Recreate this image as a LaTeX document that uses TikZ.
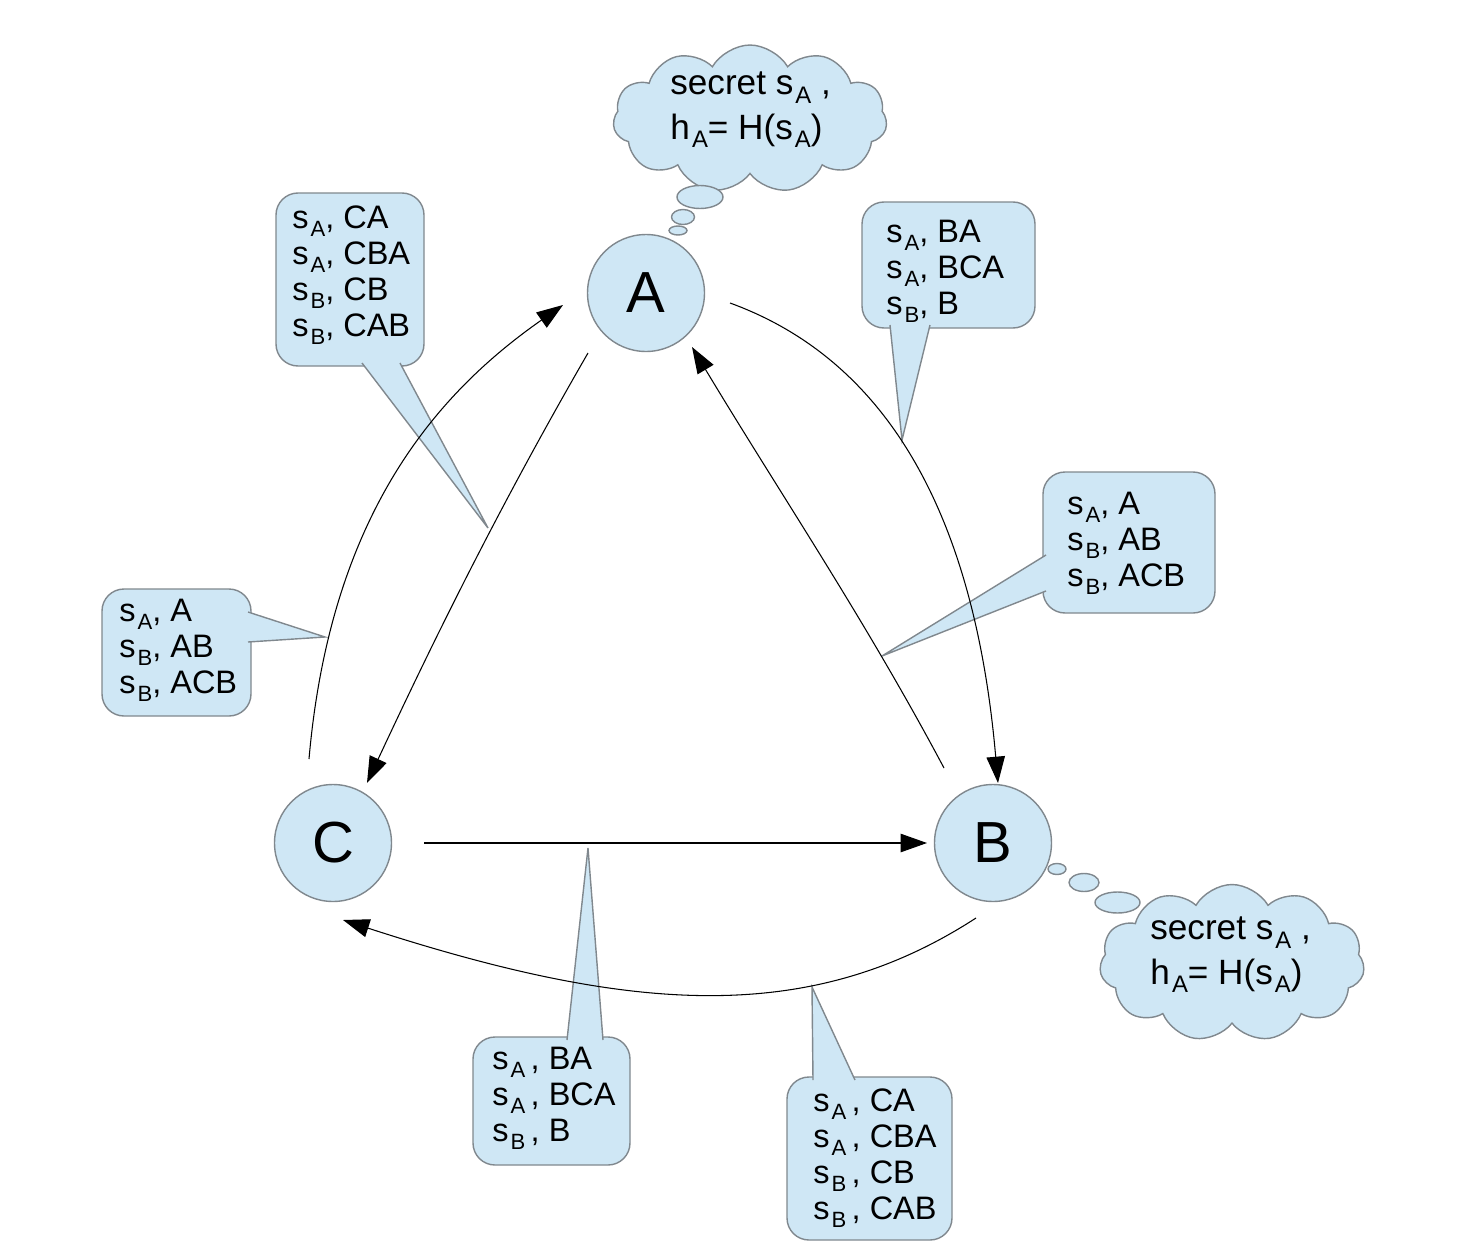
\documentclass[tikz,border=0pt]{standalone}
\usepackage{fontspec}
\usepackage{graphicx}
\setmainfont{Liberation Sans}
\usetikzlibrary{arrows.meta,shapes.symbols}

\definecolor{bubble}{RGB}{207,231,245}
\definecolor{rim}{RGB}{128,136,142}

% lowered, smaller index letter (s_A, h_A)
\newcommand\sbx[1]{\kern0.06em\raisebox{-0.24em}{\scalebox{0.68}{#1}}}

\begin{document}
\begin{tikzpicture}[x=0.02cm,y=0.02cm,
  state/.style={circle, draw=rim, fill=bubble, line width=0.8pt,
    minimum size=2.34cm, inner sep=0pt, font=\fontsize{33}{36}\selectfont},
  flow/.style={line width=0.6pt, -{Triangle[length=15pt,width=10.5pt]}},
  box/.style={draw=rim, fill=bubble, line width=0.8pt, rounded corners=0.44cm},
  tail/.style={draw=rim, fill=bubble, line width=0.8pt, line join=miter},
  boxtext/.style={anchor=west, align=left, inner sep=0pt,
    font=\fontsize{18.5}{20.5}\selectfont},
  cloudtext/.style={anchor=west, align=left, inner sep=0pt,
    font=\fontsize{20}{25.5}\selectfont},
  thought/.style={cloud, cloud puffs=11, cloud puff arc=120, draw=rim,
    fill=bubble, line width=0.8pt, inner sep=0pt},
  trail/.style={draw=rim, fill=bubble, line width=0.8pt}]

\useasboundingbox (0,0) rectangle (1465,-1251);

% thought clouds with their trails of bubbles
\node[thought, aspect=1.85, minimum width=5.48cm, minimum height=2.96cm] (cloudA) at (750,-119) {};
\node[cloudtext] (secretA) at (670,-110) {secret s\sbx{A} ,\\h\sbx{A}= H(s\sbx{A})};
\path[trail] (700,-197) ellipse [x radius=23, y radius=11.5];
\path[trail] (683,-217) ellipse [x radius=11.5, y radius=7.5];
\path[trail] (678,-230.5) ellipse [x radius=9, y radius=4.5];

\node[thought, aspect=1.7, minimum width=5.3cm, minimum height=3.14cm] (cloudB) at (1232,-963) {};
\node[cloudtext] (secretB) at (1150,-955) {secret s\sbx{A} ,\\h\sbx{A}= H(s\sbx{A})};
\path[trail] (1057,-869) ellipse [x radius=9, y radius=5.5];
\path[trail] (1084,-882.5) ellipse [x radius=15, y radius=9];
\path[trail] (1117.5,-902.5) ellipse [x radius=22.5, y radius=10.5];

% callout boxes: rounded body, then the pointer on top of its rim
\draw[box] (276,-193) rectangle (424,-366);
\draw[tail] (362,-363) -- (488,-528) -- (400,-363);
\node[boxtext] (la) at (292,-275) {s\sbx{A}, CA\\s\sbx{A}, CBA\\s\sbx{B}, CB\\s\sbx{B}, CAB};

\draw[box] (862,-202) rectangle (1035,-328);
\draw[tail] (890,-325) -- (902,-440) -- (930,-325);
\node[boxtext] (lb) at (886,-271) {s\sbx{A}, BA\\s\sbx{A}, BCA\\s\sbx{B}, B};

\draw[box] (1043,-472) rectangle (1215,-613);
\draw[tail] (1046,-555) -- (882,-656) -- (1046,-591);
\node[boxtext] (lc) at (1067,-543) {s\sbx{A}, A\\s\sbx{B}, AB\\s\sbx{B}, ACB};

\draw[box] (102,-589) rectangle (251,-716);
\draw[tail] (248,-612) -- (325,-637) -- (248,-642);
\node[boxtext] (ld) at (119,-650) {s\sbx{A}, A\\s\sbx{B}, AB\\s\sbx{B}, ACB};

\draw[box] (473,-1037) rectangle (630,-1165);
\draw[tail] (567,-1040) -- (588,-848) -- (603,-1040);
\node[boxtext] (le) at (492,-1098) {s\sbx{A}\,, BA\\s\sbx{A}\,, BCA\\s\sbx{B}\,, B};

\draw[box] (787,-1077) rectangle (952,-1240);
\draw[tail] (813,-1080) -- (812,-987) -- (855,-1080);
\node[boxtext] (lf) at (813,-1158) {s\sbx{A}\,, CA\\s\sbx{A}\,, CBA\\s\sbx{B}\,, CB\\s\sbx{B}\,, CAB};

% the three parties
\node[state] (A) at (646,-293) {A};
\node[state] (B) at (993,-843) {B};
\node[state] (C) at (333,-843) {C};

% messages between the parties
\draw[flow] ([shift={(-24,84)}]C.center) .. controls +(85:250) and +(215:150) .. ([shift={(-83,-12)}]A.center);
\draw[flow] ([shift={(-58,-60)}]A.center) .. controls +(240:170) and +(65:170) .. ([shift={(34,60)}]C.center);
\draw[flow] ([shift={(84,-10)}]A.center) .. controls +(-20:180) and +(95:250) .. ([shift={(5,60)}]B.center);
\draw[flow] ([shift={(-49,75)}]B.center) .. controls +(118:170) and +(-59:170) .. ([shift={(46,-54)}]A.center);
\draw[flow] ([shift={(91,0)}]C.center) -- ([shift={(-66,0)}]B.center);
\draw[flow] ([shift={(-17,-75)}]B.center) .. controls +(213:200) and +(-18:300) .. ([shift={(10,-77)}]C.center);

\end{tikzpicture}
\end{document}
